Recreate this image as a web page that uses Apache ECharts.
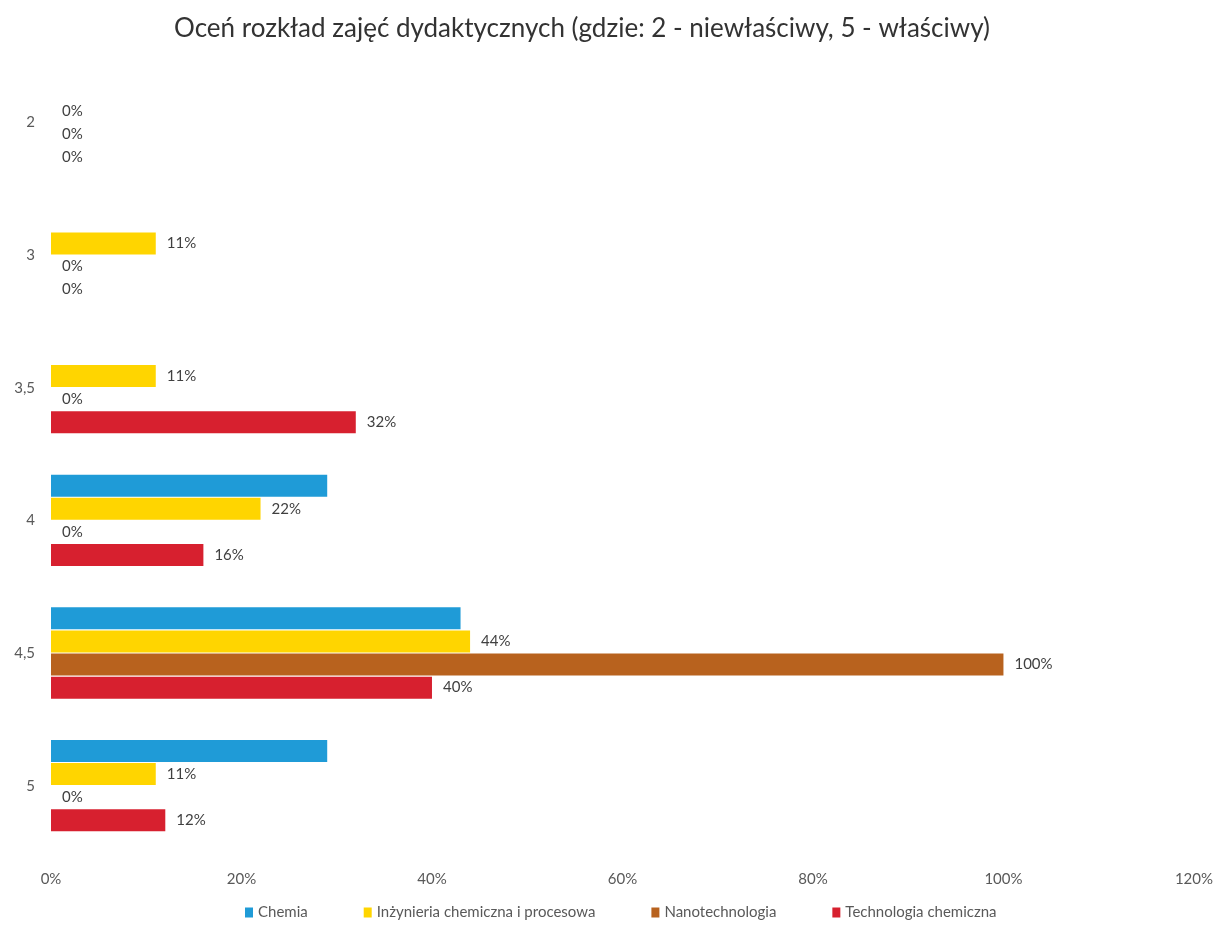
<!DOCTYPE html>
<html>
<head>
<meta charset="utf-8">
<title>Oceń rozkład zajęć dydaktycznych</title>
<script src="https://cdn.jsdelivr.net/npm/echarts@6/dist/echarts.min.js"></script>
<style>
  * { margin: 0; padding: 0; }
  body { background: #fff; }
  #chart { width: 1216px; height: 925px; }
</style>
</head>
<body>
<div id="chart"></div>
<script>
// oceny (oś kategorii)
var categories = ['2', '3', '3,5', '4', '4,5', '5'];
// wartości w procentach
var chemia = [0, 0, 0, 29, 43, 29];
var inzynieria = [0, 11, 11, 22, 44, 11];
var nanotechnologia = [0, 0, 0, 0, 100, 0];
var technologia = [0, 0, 32, 16, 40, 12];
var xTicks = [0, 20, 40, 60, 80, 100, 120];

var font = 'Lato, "Open Sans", sans-serif';

function makeSeries(name, data, color, showLabel) {
  return {
    name: name,
    type: 'bar',
    data: data,
    barWidth: 22,
    barGap: '5%',
    itemStyle: { color: color },
    label: {
      show: showLabel,
      position: 'right',
      distance: 11,
      color: '#404040',
      fontFamily: font,
      fontSize: 15,
      formatter: function (p) { return Math.round(p.value) + '%'; }
    }
  };
}

var chart = echarts.init(document.getElementById('chart'));
chart.setOption({
  animation: false,
  title: {
    text: 'Oceń rozkład zajęć dydaktycznych (gdzie: 2 - niewłaściwy, 5 - właściwy)',
    left: 169,
    top: 11,
    textStyle: { fontFamily: font, fontSize: 26, fontWeight: 'normal', color: '#333' }
  },
  legend: {
    bottom: 0,
    left: 240,
    itemWidth: 8,
    itemHeight: 10,
    itemGap: 56,
    icon: 'rect',
    textStyle: { fontFamily: font, fontSize: 15, color: '#595959' },
    data: ['Chemia', 'Inżynieria chemiczna i procesowa', 'Nanotechnologia', 'Technologia chemiczna']
  },
  grid: { left: 51, right: 21, top: 56, bottom: 73, containLabel: false },
  xAxis: {
    type: 'value',
    min: 0,
    max: 120,
    interval: 20,
    axisLine: { show: false },
    axisTick: { show: false },
    splitLine: { show: false },
    axisLabel: {
      margin: 20,
      color: '#595959',
      fontFamily: font,
      fontSize: 15,
      formatter: function (v) { return xTicks.indexOf(v) >= 0 ? v + '%' : ''; }
    }
  },
  yAxis: {
    type: 'category',
    data: categories,
    inverse: true,
    axisLine: { show: false },
    axisTick: { show: false },
    axisLabel: { margin: 16, color: '#595959', fontFamily: font, fontSize: 15 }
  },
  series: [
    makeSeries('Chemia', chemia, '#1f9bd7', false),
    makeSeries('Inżynieria chemiczna i procesowa', inzynieria, '#ffd500', true),
    makeSeries('Nanotechnologia', nanotechnologia, '#b8621e', true),
    makeSeries('Technologia chemiczna', technologia, '#d7202f', true)
  ]
});
</script>
</body>
</html>
